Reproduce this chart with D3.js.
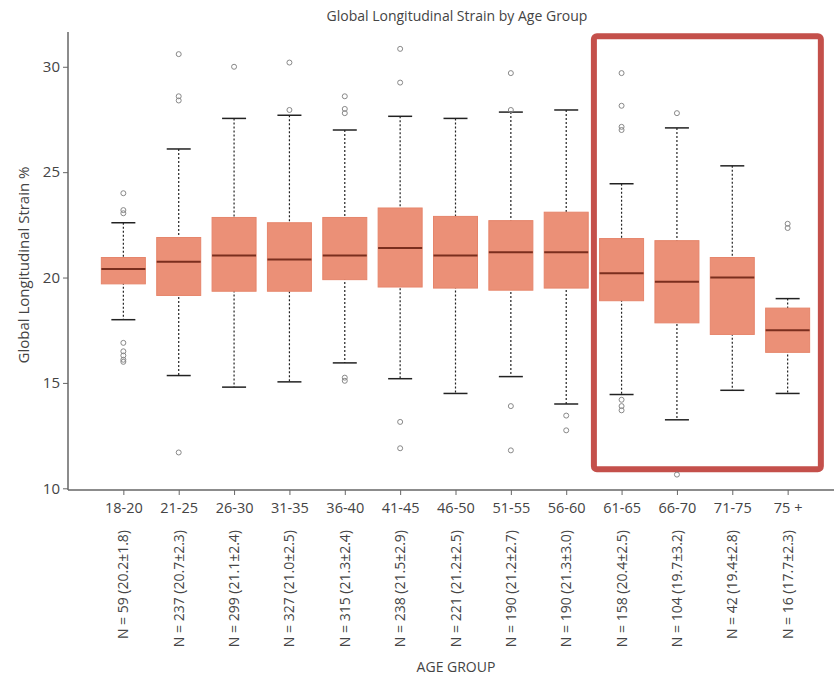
<!DOCTYPE html>
<html>
<head>
<meta charset="utf-8">
<script src="https://cdn.jsdelivr.net/npm/d3@7"></script>
<style>
  body { margin: 0; background: #fff; }
  text { font-family: "Open Sans", "Noto Sans", sans-serif; fill: #444; }
</style>
</head>
<body>
<div class="chart"></div>
<script>
const w = 834;
const h = 680;

const groups = ['18-20', '21-25', '26-30', '31-35', '36-40', '41-45', '46-50',
  '51-55', '56-60', '61-65', '66-70', '71-75', '75 +'];
const nLabels = ['N = 59 (20.2±1.8)', 'N = 237 (20.7±2.3)', 'N = 299 (21.1±2.4)',
  'N = 327 (21.0±2.5)', 'N = 315 (21.3±2.4)', 'N = 238 (21.5±2.9)',
  'N = 221 (21.2±2.5)', 'N = 190 (21.2±2.7)', 'N = 190 (21.3±3.0)',
  'N = 158 (20.4±2.5)', 'N = 104 (19.7±3.2)', 'N = 42 (19.4±2.8)',
  'N = 16 (17.7±2.3)'];
const whiskerLow = [18.0, 15.35, 14.8, 15.05, 15.95, 15.2, 14.5, 15.3, 14.0, 14.45, 13.25, 14.65, 14.5];
const q1 = [19.7, 19.15, 19.35, 19.35, 19.9, 19.55, 19.5, 19.4, 19.5, 18.9, 17.85, 17.3, 16.45];
const median = [20.4, 20.75, 21.05, 20.85, 21.05, 21.4, 21.05, 21.2, 21.2, 20.2, 19.8, 20.0, 17.5];
const q3 = [20.95, 21.9, 22.85, 22.6, 22.85, 23.3, 22.9, 22.7, 23.1, 21.85, 21.75, 20.95, 18.55];
const whiskerHigh = [22.6, 26.1, 27.55, 27.7, 27.0, 27.65, 27.55, 27.85, 27.95, 24.45, 27.1, 25.3, 19.0];
const outliers = [
  [24.0, 23.2, 23.05, 16.9, 16.5, 16.3, 16.1, 16.0],
  [30.6, 28.6, 28.4, 11.7],
  [30.0],
  [30.2, 27.95],
  [28.6, 28.0, 27.8, 15.25, 15.1],
  [30.85, 29.25, 13.15, 11.9],
  [],
  [29.7, 27.95, 13.9, 11.8],
  [13.45, 12.75],
  [29.7, 28.15, 27.15, 27.0, 14.2, 13.9, 13.7],
  [27.8, 10.65],
  [],
  [22.55, 22.35]
];
const yTicks = [10, 15, 20, 25, 30];

const boxes = groups.map((g, i) => ({
  g, lo: whiskerLow[i], q1: q1[i], med: median[i], q3: q3[i], hi: whiskerHigh[i], out: outliers[i]
}));

const svg = d3.select('.chart').append('svg').attr('width', w).attr('height', h);

const xScale = d3.scalePoint().domain(groups).range([68, 843]).padding(1);
const yScale = d3.scaleLinear().domain([10, 31.65]).range([488.3, 32]);
const boxW = 44;
const capW = 24;

// highlight frame around older groups
const step = xScale.step();
svg.append('rect')
  .attr('x', xScale('61-65') - step * 0.5)
  .attr('y', yScale(31.45))
  .attr('width', xScale('75 +') - xScale('61-65') + step * 1.1)
  .attr('height', yScale(10.9) - yScale(31.45))
  .attr('rx', 3)
  .attr('fill', 'none')
  .attr('stroke', '#c4504b')
  .attr('stroke-width', 6);

const g = svg.selectAll('.box').data(boxes).enter().append('g').attr('class', 'box');

// whiskers
g.append('line')
  .attr('x1', (d) => xScale(d.g)).attr('x2', (d) => xScale(d.g))
  .attr('y1', (d) => yScale(d.hi)).attr('y2', (d) => yScale(d.lo))
  .attr('stroke', '#222').attr('stroke-width', 1.2).attr('stroke-dasharray', '2,2');
['lo', 'hi'].forEach((k) => {
  g.append('line')
    .attr('x1', (d) => xScale(d.g) - capW / 2).attr('x2', (d) => xScale(d.g) + capW / 2)
    .attr('y1', (d) => yScale(d[k])).attr('y2', (d) => yScale(d[k]))
    .attr('stroke', '#222').attr('stroke-width', 1.5);
});

// boxes
g.append('rect')
  .attr('x', (d) => xScale(d.g) - boxW / 2)
  .attr('y', (d) => yScale(d.q3))
  .attr('width', boxW)
  .attr('height', (d) => yScale(d.q1) - yScale(d.q3))
  .attr('fill', '#eb9077')
  .attr('stroke', '#e6856b')
  .attr('stroke-width', 1);

g.append('line')
  .attr('x1', (d) => xScale(d.g) - boxW / 2).attr('x2', (d) => xScale(d.g) + boxW / 2)
  .attr('y1', (d) => yScale(d.med)).attr('y2', (d) => yScale(d.med))
  .attr('stroke', '#7a2e1e').attr('stroke-width', 2);

// outliers
g.selectAll('circle')
  .data((d) => d.out.map((v) => ({ g: d.g, v })))
  .enter()
  .append('circle')
  .attr('cx', (d) => xScale(d.g))
  .attr('cy', (d) => yScale(d.v))
  .attr('r', 2.5)
  .attr('fill', 'none')
  .attr('stroke', '#888')
  .attr('stroke-width', 1);

// Left axis
const yAxis = d3.axisLeft(yScale).tickValues(yTicks).tickSize(5).tickPadding(3);
const yG = svg.append('g').attr('transform', 'translate(68,0)').call(yAxis);
yG.select('.domain').remove();
yG.append('line').attr('x1', 0).attr('x2', 0).attr('y1', 32).attr('y2', 490)
  .attr('stroke', '#666').attr('stroke-width', 1.5);
yG.selectAll('.tick line').attr('stroke', '#666');
yG.selectAll('.tick text').style('font-size', '15px').attr('fill', '#444');

// Bottom axis
const xAxis = d3.axisBottom(xScale).tickSize(5).tickPadding(8);
const xG = svg.append('g').attr('transform', 'translate(0,490)').call(xAxis);
xG.select('.domain').remove();
xG.append('line').attr('x1', 68).attr('x2', 834).attr('y1', 0).attr('y2', 0)
  .attr('stroke', '#666').attr('stroke-width', 1.5);
xG.selectAll('.tick line').attr('stroke', '#666');
xG.selectAll('.tick text').style('font-size', '14.5px').attr('fill', '#444');

// N labels
svg.selectAll('.nlab').data(groups).enter().append('text')
  .attr('class', 'nlab')
  .attr('transform', (d) => `translate(${xScale(d) + 5},530) rotate(-90)`)
  .attr('text-anchor', 'end')
  .style('font-size', '14px')
  .text((d, i) => nLabels[i]);

// titles
svg.append('text').attr('x', 457).attr('y', 21).attr('text-anchor', 'middle')
  .style('font-size', '14px').attr('fill', '#333')
  .text('Global Longitudinal Strain by Age Group');
svg.append('text').attr('transform', 'translate(29,265) rotate(-90)')
  .attr('text-anchor', 'middle').style('font-size', '15px')
  .text('Global Longitudinal Strain %');
svg.append('text').attr('x', 456).attr('y', 672).attr('text-anchor', 'middle')
  .style('font-size', '14px').text('AGE GROUP');
</script>
</body>
</html>
